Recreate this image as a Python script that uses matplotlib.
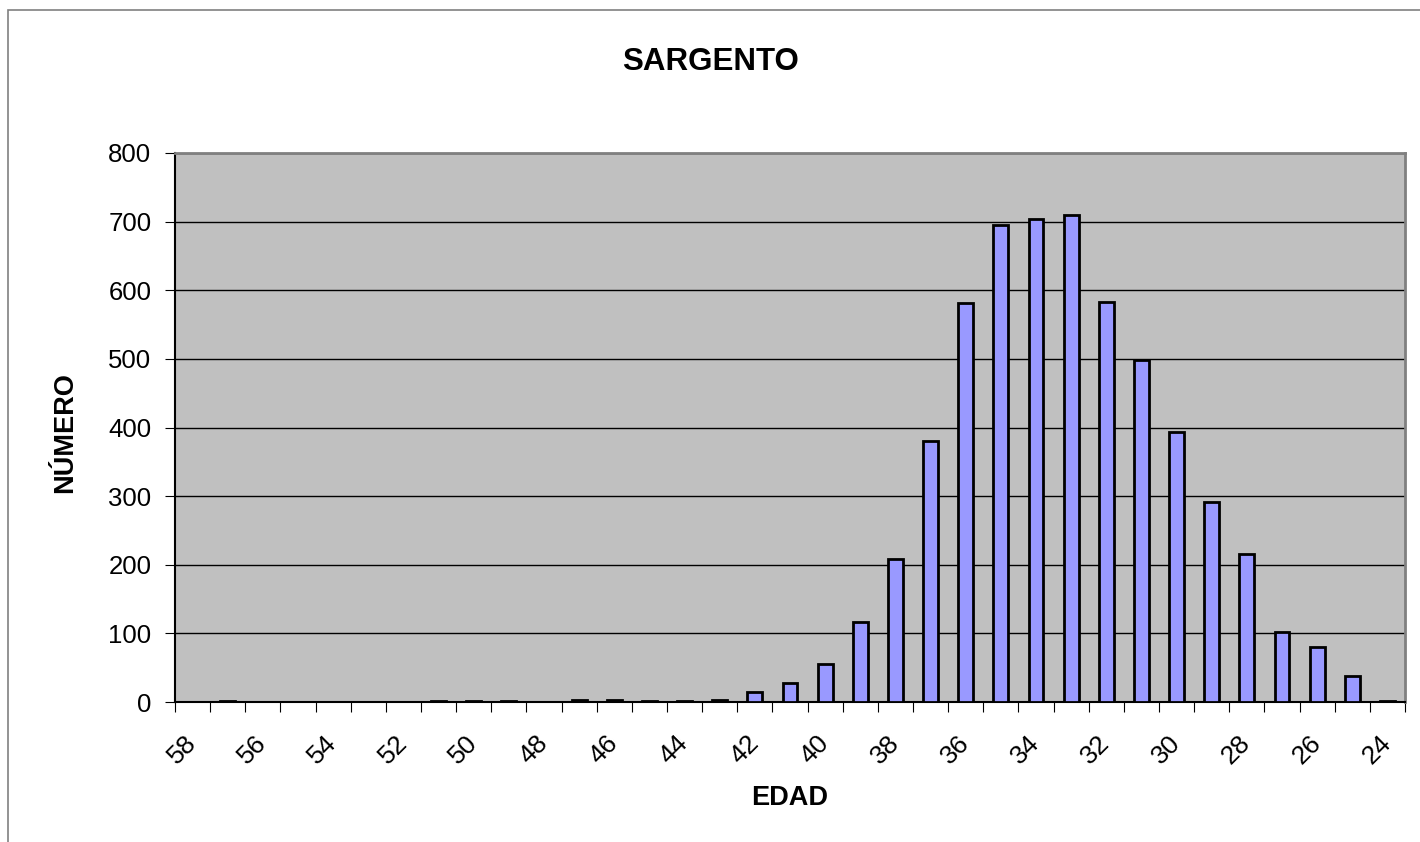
import numpy as np
import matplotlib
matplotlib.use("Agg")
import matplotlib.pyplot as plt
from matplotlib.patches import Rectangle

plt.rcParams['font.family'] = ['Liberation Sans', 'DejaVu Sans']

# edad de 58 a 24 (orden descendente, como en el original)
edades = list(range(58, 23, -1))
numero = [0, 1, 0, 0, 0, 0, 0, 1, 1, 2, 0, 3, 3, 1, 2, 3, 14, 27, 56, 117,
          209, 380, 582, 695, 704, 709, 583, 498, 394, 291, 216, 102, 80, 38, 1]
etiquetas = [str(e) for e in edades if e % 2 == 0]

fig = plt.figure(figsize=(14.2, 8.42), dpi=100)
ax = fig.add_axes([175 / 1420, 140 / 842, 1230 / 1420, 549 / 842])

# marco exterior del gráfico
fig.patches.append(Rectangle((8 / 1420, -0.1), 1.2, (842 - 10) / 842 + 0.1,
                             transform=fig.transFigure, fill=False,
                             edgecolor='#808080', linewidth=1.2))

x = np.arange(len(edades))
ax.set_facecolor('#C0C0C0')
ax.bar(x, numero, width=0.42, color='#9999FF', edgecolor='black', linewidth=2, zorder=3)

ax.set_xlim(-0.5, len(edades) - 0.5)
ax.set_ylim(0, 800)
ax.set_yticks(np.arange(0, 801, 100))
ax.yaxis.grid(True, color='black', linewidth=1, zorder=0)
ax.set_axisbelow(True)

# marcas en los límites de categoría, etiquetas cada dos edades
ax.set_xticks(np.arange(-0.5, len(edades), 1))
ax.set_xticklabels([])
pos_etq = [i for i, e in enumerate(edades) if e % 2 == 0]
ax.set_xticks(pos_etq, minor=True)
ax.set_xticklabels(etiquetas, minor=True, rotation=45, ha='right', va='center',
                   rotation_mode='anchor', fontsize=19)
ax.tick_params(axis='x', which='minor', length=0, pad=27)
ax.tick_params(axis='x', which='major', length=7, direction='out', color='black')
ax.tick_params(axis='y', length=7, direction='out', labelsize=18.5, pad=10)

for s in ['top', 'right']:
    ax.spines[s].set_color('#808080')
    ax.spines[s].set_linewidth(2)
for s in ['left', 'bottom']:
    ax.spines[s].set_color('black')
    ax.spines[s].set_linewidth(1.5)

fig.text(711 / 1420, 1 - 62 / 842, 'SARGENTO', ha='center', va='center',
         fontsize=22.5, fontweight='bold')
fig.text(790 / 1420, 1 - 798 / 842, 'EDAD', ha='center', va='center',
         fontsize=19.5, fontweight='bold')
fig.text(65 / 1420, 1 - 433 / 842, 'NÚMERO', ha='center', va='center',
         fontsize=19.5, fontweight='bold', rotation=90)

fig.savefig('out.png', dpi=100)
